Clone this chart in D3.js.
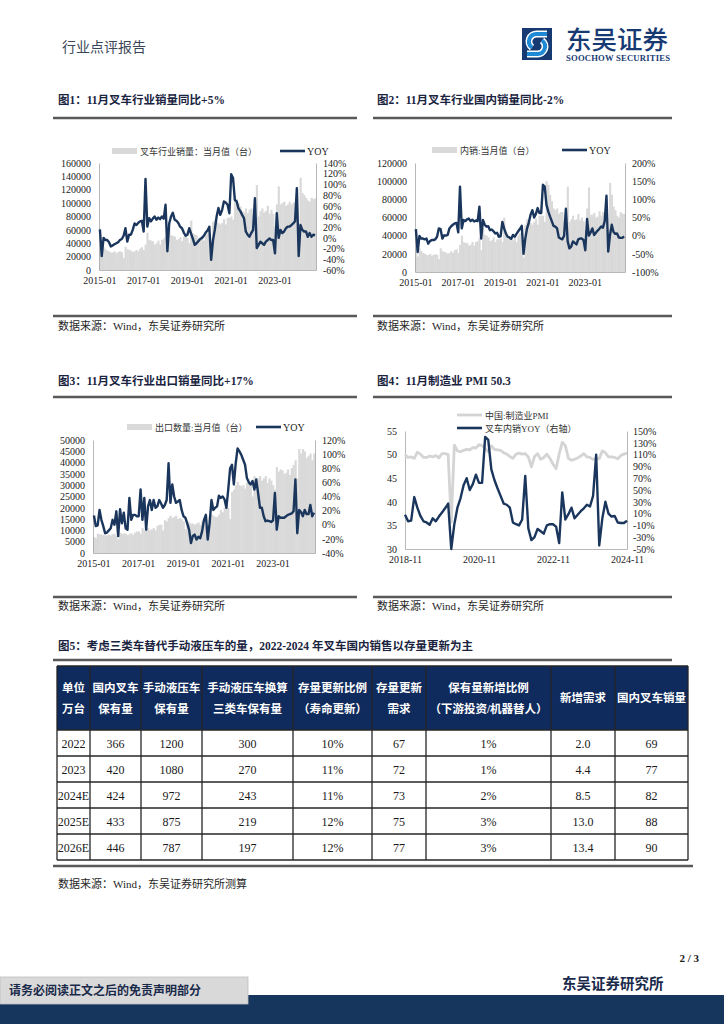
<!DOCTYPE html>
<html><head><meta charset="utf-8">
<script src="https://cdn.jsdelivr.net/npm/d3@7"></script>
<style>
body{margin:0;background:#fff;}
svg{display:block;}
text{font-family:"Liberation Serif","Noto Sans CJK SC",serif;}
</style>
</head><body>
<svg id="page" width="724" height="1024"></svg>
<script>
// ---------------- DATA ----------------
const months = [];
for (let y = 2015; y <= 2024; y++) for (let m = 1; m <= 12; m++) { if (y === 2024 && m > 11) break; months.push(y + "-" + String(m).padStart(2, "0")); }
const pmiMonths = months.slice(months.indexOf("2018-11"));
const xTicksA = ["2015-01", "2017-01", "2019-01", "2021-01", "2023-01"];
const xTicksB = ["2018-11", "2020-11", "2022-11", "2024-11"];

// Fig1: forklift industry monthly sales (units) & YOY (%)
const totalSales = [
 37000,22000,34000,31000,29000,28000,26000,26000,28000,25000,27000,28000,
 27000,18000,35000,31000,30000,29000,27000,28000,30000,28000,32000,34000,
 30000,38000,56000,45000,44000,43000,38000,40000,44000,38000,45000,47000,
 50000,30000,62000,52000,51000,50000,45000,46000,49000,43000,50000,52000,
 48000,40000,74000,55000,53000,52000,47000,48000,51000,44000,53000,55000,
 45000,22000,72000,75000,72000,70000,68000,70000,76000,68000,78000,78000,
 80000,75000,110000,106000,100000,95000,88000,86000,92000,85000,90000,92000,
 82000,70000,127000,80000,88000,92000,86000,88000,96000,84000,90000,84000,
 65000,98000,125000,98000,100000,102000,96000,98000,102000,98000,101000,100000,
 108000,70000,138000,115000,112000,108000,104000,102000,108000,106000,107000];
const totalYoy = [
 16,-34,0,-4,-4,-8,-16,-14,-12,-10,-8,-4,
 -2,4,18,-7,6,6,15,27,24,28,31,32,
 12,110,21,37,31,36,40,34,38,35,40,36,
 62,-25,27,40,47,34,32,28,21,18,10,4,
 6,18,8,-2,-13,-10,-6,-2,0,4,10,14,
 21,-41,-5,15,40,56,43,52,68,66,62,46,
 119,112,71,68,55,50,43,37,12,6,2,9,
 15,74,-19,-13,-7,-10,-13,-7,-4,-1,-4,-4,
 -29,46,0,15,9,12,18,21,21,24,27,31,
 93,-34,24,15,12,12,2,9,2,6,5];

// Fig2: domestic monthly sales & YOY
const domesticSales = [
 30000,17000,26000,23000,21000,20000,19000,18500,20000,18000,19000,19500,
 19000,14000,26000,23000,22000,21500,20000,21000,23000,21000,24000,25000,
 21000,30000,40000,33000,32000,32000,29000,30000,33000,29000,33000,34000,
 38000,24000,48000,41000,40000,38000,34000,35000,38000,33000,36000,36000,
 37000,33000,60000,43000,40000,38000,34000,35000,38000,33000,40000,43000,
 40000,16000,52000,58000,55000,54000,52000,55000,59000,52000,62000,62000,
 62000,55000,100000,96000,85000,78000,70000,68000,70000,64000,66000,66000,
 58000,52000,94000,55000,58000,62000,57000,58000,64000,57000,60000,56000,
 46000,70000,93000,63000,63000,65000,60000,61000,67000,62000,66000,62000,
 62000,40000,98000,85000,72000,68000,62000,60000,66000,64000,64000];
const domesticYoy = [
 18,-45,-1,-8,-8,-10,-8,-22,-15,-12,-12,-10,
 -3,20,18,-8,1,0,2,20,26,30,34,35,
 9,135,20,43,40,45,47,40,44,39,42,40,
 80,-8,43,30,25,26,15,17,12,6,
 8,-3,-2,38,20,6,-3,-5,-9,2,
 -3,5,12,19,27,-50,-8,20,36,58,
 70,50,60,76,62,62,140,135,85,67,
 53,40,27,25,20,-5,-8,-10,0,74,
 -15,-35,-30,-16,-20,-24,-10,-8,-8,-12,
 -40,46,0,9,20,2,8,14,19,25,
 22,40,110,-44,2,30,10,5,6,-5,
 -6,-6,-2];

// Fig3: export monthly volume & YOY
const exportSales = [
 7000,6500,8500,8300,8200,8000,7800,7800,8200,7800,8300,8500,
 7500,6000,9000,8500,8600,8600,8000,8300,8800,8000,9000,9500,
 9500,8500,11000,10000,10500,11000,10000,10500,11000,10000,12000,12500,
 12500,10000,14500,14000,15500,16500,15500,16000,16500,15000,15500,15000,
 14000,10500,14000,13500,13000,13000,12500,13000,13500,12500,14000,14500,
 12000,8500,16000,17000,16500,16000,16000,17000,19000,18000,20000,21000,
 20000,15000,27000,28000,30000,31500,30000,29500,30000,28500,31000,33000,
 30000,25000,34000,33000,33000,34000,32000,33000,34000,31000,33000,32000,
 30000,28000,38000,36000,37000,36500,35000,35500,37000,34500,37500,39000,
 41000,33000,46000,44000,46000,45000,42000,43000,44000,41000,44000];
const exportYoy = [
 13,-2,-1,21,7,-2,-12,-11,-8,-5,7,0,
 19,-16,22,2,17,-5,-7,38,7,14,14,12,
 12,50,7,38,-7,26,35,21,35,24,26,35,
 30,24,28,35,87,31,57,40,31,33,35,21,
 12,10,2,-7,-26,-16,-14,-21,-17,-19,-9,7,
 14,-21,2,35,21,24,26,41,38,40,36,24,
 50,80,85,57,87,108,104,99,92,85,66,60,
 57,62,50,64,45,24,24,12,5,6,5,4,
 6,45,-7,12,10,10,10,12,14,15,16,19,
 64,-12,21,18,12,21,15,15,28,12,17];

// Fig4: China manufacturing PMI (2018-11 .. 2024-11)
const pmi = [
 50.0,49.4,
 49.5,49.2,50.5,50.1,49.4,49.4,49.7,49.5,49.8,49.3,50.2,50.2,
 50.0,35.7,52.0,50.8,50.6,50.9,51.1,51.0,51.5,51.4,52.1,51.9,
 51.3,50.6,51.9,51.1,51.0,50.9,50.4,50.1,49.6,49.2,50.1,50.3,
 50.1,50.2,49.5,47.4,49.6,50.2,49.0,49.4,50.1,49.2,48.0,47.0,
 50.1,52.6,51.9,49.2,48.8,49.0,49.3,49.7,50.2,49.5,49.4,49.0,
 49.2,49.1,50.8,50.4,49.5,49.5,49.4,49.1,49.8,50.1,50.3];
const pmiYoy = domesticYoy.slice(months.indexOf("2018-11"));

// Table
const tableHead = [["单位","万台"],["国内叉车","保有量"],["手动液压车","保有量"],["手动液压车换算","三类车保有量"],
  ["存量更新比例","（寿命更新）"],["存量更新","需求"],["保有量新增比例","（下游投资/机器替人）"],["新增需求"],["国内叉车销量"]];
const tableYears = ["2022","2023","2024E","2025E","2026E"];
const tableRows = [
 ["366","1200","300","10%","67","1%","2.0","69"],
 ["420","1080","270","11%","72","1%","4.4","77"],
 ["424","972","243","11%","73","2%","8.5","82"],
 ["433","875","219","12%","75","3%","13.0","88"],
 ["446","787","197","12%","77","3%","13.4","90"]];

// ---------------- STYLE ----------------
const NAVY = "#1b365d", GRAY = "#d9d9d9", AX = "#a6a6a6";
const svg = d3.select("#page");
svg.append("rect").attr("width",724).attr("height",1024).attr("fill","#fff");

function txt(x, y, s, o = {}) {
  const t = svg.append("text").attr("x", x).attr("y", y).text(s)
    .attr("font-size", o.size || 11).attr("fill", o.fill || "#222")
    .attr("font-weight", o.weight || "normal").attr("text-anchor", o.anchor || "start");
  if (o.family) t.attr("font-family", o.family);
  return t;
}
function hline(x1, x2, y, w = 2.5, c = "#595959") {
  svg.append("line").attr("x1", x1).attr("x2", x2).attr("y1", y).attr("y2", y).attr("stroke", c).attr("stroke-width", w);
}

// ---------------- HEADER ----------------
txt(62, 52, "行业点评报告", {size: 14, fill: "#3b4658", family: "Noto Sans CJK SC"});
const logo = svg.append("g").attr("transform", "translate(522,28)");
logo.append("rect").attr("width", 30).attr("height", 32).attr("fill", "#173a73");
logo.append("path").attr("d", "M25 6 L15 6 A7.5 7.5 0 0 0 10 19.5").attr("fill","none").attr("stroke","#fff").attr("stroke-width",7);
logo.append("path").attr("d", "M5 26 L15 26 A7.5 7.5 0 0 0 20 12.5").attr("fill","none").attr("stroke","#fff").attr("stroke-width",7);
logo.append("path").attr("d", "M25 6 L15 6 A7.5 7.5 0 0 0 10 19.5").attr("fill","none").attr("stroke","#1e8ad6").attr("stroke-width",4);
logo.append("path").attr("d", "M5 26 L15 26 A7.5 7.5 0 0 0 20 12.5").attr("fill","none").attr("stroke","#1e8ad6").attr("stroke-width",4);
txt(566, 49, "东吴证券", {size: 25.5, fill: "#173a73", family: "Noto Sans CJK SC", weight: 500});
txt(566, 61, "SOOCHOW SECURITIES", {size: 8.6, fill: "#173a73", family: "Liberation Sans", weight: "bold"}).attr("textLength", 104);

// ---------------- SECTION TITLES ----------------
const T = {size: 11.5, weight: "bold", fill: "#1a2440"};
txt(58, 104, "图1：11月叉车行业销量同比+5%", T);
txt(377, 104, "图2：11月叉车行业国内销量同比-2%", T);
hline(53, 357, 118); hline(373, 672, 118);
hline(53, 357, 316); hline(373, 672, 316);
const S = {size: 11, fill: "#262626"};
txt(58, 330, "数据来源：Wind，东吴证券研究所", S);
txt(377, 330, "数据来源：Wind，东吴证券研究所", S);
txt(58, 385, "图3：11月叉车行业出口销量同比+17%", T);
txt(377, 385, "图4：11月制造业 PMI 50.3", T);
hline(53, 357, 397); hline(373, 672, 397);
hline(53, 357, 597); hline(373, 672, 597);
txt(58, 610, "数据来源：Wind，东吴证券研究所", S);
txt(377, 610, "数据来源：Wind，东吴证券研究所", S);
txt(58, 650, "图5：考虑三类车替代手动液压车的量，2022-2024 年叉车国内销售以存量更新为主", T);
hline(53, 672, 660);

// ---------------- CHART HELPERS ----------------
function styleAxis(g) {
  g.attr("font-family", '"Liberation Serif","Noto Sans CJK SC",serif').attr("font-size", 10);
  g.selectAll("text").attr("fill", "#222");
  g.select(".domain").attr("stroke", AX).attr("stroke-width", 0.8);
}

function barLine(o) {
  const g = svg.append("g");
  const x = d3.scaleBand().domain(months).range([o.x0, o.x1]).paddingInner(0);
  const yL = d3.scaleLinear().domain([0, o.lmax]).range([o.yb, o.yt]);
  const yR = d3.scaleLinear().domain([o.rmin, o.rmax]).range([o.yb, o.yt]);
  g.append("g").selectAll("rect").data(o.bars).join("rect")
    .attr("x", (d, i) => x(months[i])).attr("width", x.bandwidth() + 0.35)
    .attr("y", d => yL(d)).attr("height", d => yL(0) - yL(d)).attr("fill", GRAY);
  const gl = g.append("g").attr("transform", `translate(${o.x0},0)`)
    .call(d3.axisLeft(yL).tickValues(d3.range(0, o.lmax + 1, o.lstep)).tickSize(0).tickPadding(8).tickFormat(d => d));
  styleAxis(gl);
  const gr = g.append("g").attr("transform", `translate(${o.x1},0)`)
    .call(d3.axisRight(yR).tickValues(d3.range(o.rmin, o.rmax + 1, o.rstep)).tickSize(0).tickPadding(7).tickFormat(d => d + "%"));
  styleAxis(gr);
  const gb = g.append("g").attr("transform", `translate(0,${o.yb})`)
    .call(d3.axisBottom(x).tickValues(xTicksA).tickSize(0).tickPadding(7));
  styleAxis(gb);
  g.append("path").datum(o.yoy).attr("fill", "none").attr("stroke", NAVY).attr("stroke-width", 2.4)
    .attr("stroke-linejoin", "round")
    .attr("d", d3.line().x((d, i) => x(months[i]) + x.bandwidth() / 2).y(d => yR(d)));
  // legend
  g.append("rect").attr("x", o.lg[0]).attr("y", o.lg[1] - 3).attr("width", 25).attr("height", 6).attr("fill", GRAY);
  g.append("text").attr("x", o.lg[0] + 28).attr("y", o.lg[1] + 3.5).text(o.lgText).attr("font-size", 9).attr("fill", "#333");
  g.append("line").attr("x1", o.ll[0]).attr("x2", o.ll[0] + 25).attr("y1", o.ll[1]).attr("y2", o.ll[1]).attr("stroke", NAVY).attr("stroke-width", 2.6);
  g.append("text").attr("x", o.ll[0] + 27).attr("y", o.ll[1] + 3.5).text("YOY").attr("font-size", 10).attr("fill", "#222");
}

barLine({x0: 99, x1: 316, yt: 163, yb: 270, bars: totalSales, yoy: totalYoy, lmax: 160000, lstep: 20000,
  rmin: -60, rmax: 140, rstep: 20, lg: [112, 151], lgText: "叉车行业销量：当月值（台）", ll: [280, 151]});
barLine({x0: 415, x1: 625, yt: 163, yb: 272, bars: domesticSales, yoy: domesticYoy, lmax: 120000, lstep: 20000,
  rmin: -100, rmax: 200, rstep: 50, lg: [432, 150], lgText: "内销:当月值（台）", ll: [562, 150]});
barLine({x0: 93, x1: 315, yt: 440, yb: 553, bars: exportSales, yoy: exportYoy, lmax: 50000, lstep: 5000,
  rmin: -40, rmax: 120, rstep: 20, lg: [127, 427], lgText: "出口数量:当月值（台）", ll: [256, 427]});

// Chart 4
(function () {
  const o = {x0: 405, x1: 627, yt: 431, yb: 549};
  const g = svg.append("g");
  const x = d3.scalePoint().domain(pmiMonths).range([o.x0, o.x1]);
  const yL = d3.scaleLinear().domain([30, 55]).range([o.yb, o.yt]);
  const yR = d3.scaleLinear().domain([-50, 150]).range([o.yb, o.yt]);
  const gl = g.append("g").attr("transform", `translate(${o.x0},0)`)
    .call(d3.axisLeft(yL).tickValues(d3.range(30, 56, 5)).tickSize(0).tickPadding(8));
  styleAxis(gl);
  const gr = g.append("g").attr("transform", `translate(${o.x1},0)`)
    .call(d3.axisRight(yR).tickValues(d3.range(-50, 151, 20)).tickSize(0).tickPadding(6).tickFormat(d => d + "%"));
  styleAxis(gr);
  const gb = g.append("g").attr("transform", `translate(0,${o.yb})`)
    .call(d3.axisBottom(x).tickValues(xTicksB).tickSize(0).tickPadding(7));
  styleAxis(gb);
  g.append("path").datum(pmi).attr("fill", "none").attr("stroke", "#d4d4d4").attr("stroke-width", 2.8)
    .attr("stroke-linejoin", "round").attr("d", d3.line().x((d, i) => x(pmiMonths[i])).y(d => yL(d)));
  g.append("path").datum(pmiYoy).attr("fill", "none").attr("stroke", NAVY).attr("stroke-width", 2.4)
    .attr("stroke-linejoin", "round").attr("d", d3.line().x((d, i) => x(pmiMonths[i])).y(d => yR(d)));
  g.append("line").attr("x1", 457).attr("x2", 482).attr("y1", 415).attr("y2", 415).attr("stroke", "#d4d4d4").attr("stroke-width", 2.8);
  g.append("text").attr("x", 485).attr("y", 418.5).text("中国:制造业PMI").attr("font-size", 9).attr("fill", "#333");
  g.append("line").attr("x1", 457).attr("x2", 482).attr("y1", 428).attr("y2", 428).attr("stroke", NAVY).attr("stroke-width", 2.6);
  g.append("text").attr("x", 485).attr("y", 431.5).text("叉车内销YOY（右轴）").attr("font-size", 9).attr("fill", "#333");
})();

// ---------------- TABLE ----------------
(function () {
  const colX = [57, 90, 141, 202, 293, 372, 426, 551, 615, 688];
  const rowY = [666, 730, 756, 782, 808, 834, 860];
  const g = svg.append("g");
  g.append("rect").attr("x", colX[0]).attr("y", rowY[0]).attr("width", colX[9] - colX[0]).attr("height", rowY[1] - rowY[0]).attr("fill", "#0f2a5c");
  tableHead.forEach((lines, c) => {
    const cx = (colX[c] + colX[c + 1]) / 2;
    const cy = (rowY[0] + rowY[1]) / 2;
    lines.forEach((s, k) => {
      const yy = lines.length === 1 ? cy + 4 : cy - 10 + k * 21 + 4;
      g.append("text").attr("x", cx).attr("y", yy).attr("text-anchor", "middle").text(s)
        .attr("font-size", 11.5).attr("font-weight", "bold").attr("fill", "#fff").attr("font-family", "Noto Sans CJK SC");
    });
  });
  tableYears.forEach((yr, r) => {
    const cells = [yr].concat(tableRows[r]);
    const cy = (rowY[r + 1] + rowY[r + 2]) / 2;
    cells.forEach((s, c) => {
      g.append("text").attr("x", (colX[c] + colX[c + 1]) / 2).attr("y", cy + 4.5).attr("text-anchor", "middle")
        .text(s).attr("font-size", 12).attr("fill", "#1a1a1a");
    });
  });
  rowY.forEach(y => g.append("line").attr("x1", colX[0]).attr("x2", colX[9]).attr("y1", y).attr("y2", y).attr("stroke", "#262626").attr("stroke-width", 1.3));
  colX.forEach(x => g.append("line").attr("x1", x).attr("x2", x).attr("y1", rowY[0]).attr("y2", rowY[6]).attr("stroke", "#262626").attr("stroke-width", 1.3));
})();
hline(53, 693, 866);
txt(58, 888, "数据来源：Wind，东吴证券研究所测算", S);

// ---------------- FOOTER ----------------
txt(699, 962, "2 / 3", {size: 11, weight: "bold", fill: "#1a1a1a", anchor: "end"});
txt(562, 989, "东吴证券研究所", {size: 14.5, weight: "bold", fill: "#1a2a4a"});
svg.append("rect").attr("x", 0).attr("y", 995).attr("width", 724).attr("height", 29).attr("fill", "#17365d");
svg.append("rect").attr("x", 0).attr("y", 977).attr("width", 248).attr("height", 27).attr("fill", "#d9d9d9").attr("stroke", "#bfbfbf").attr("stroke-width", 0.8);
txt(9, 995, "请务必阅读正文之后的免责声明部分", {size: 12, weight: "bold", fill: "#1a2a4a"});
</script>
</body></html>
